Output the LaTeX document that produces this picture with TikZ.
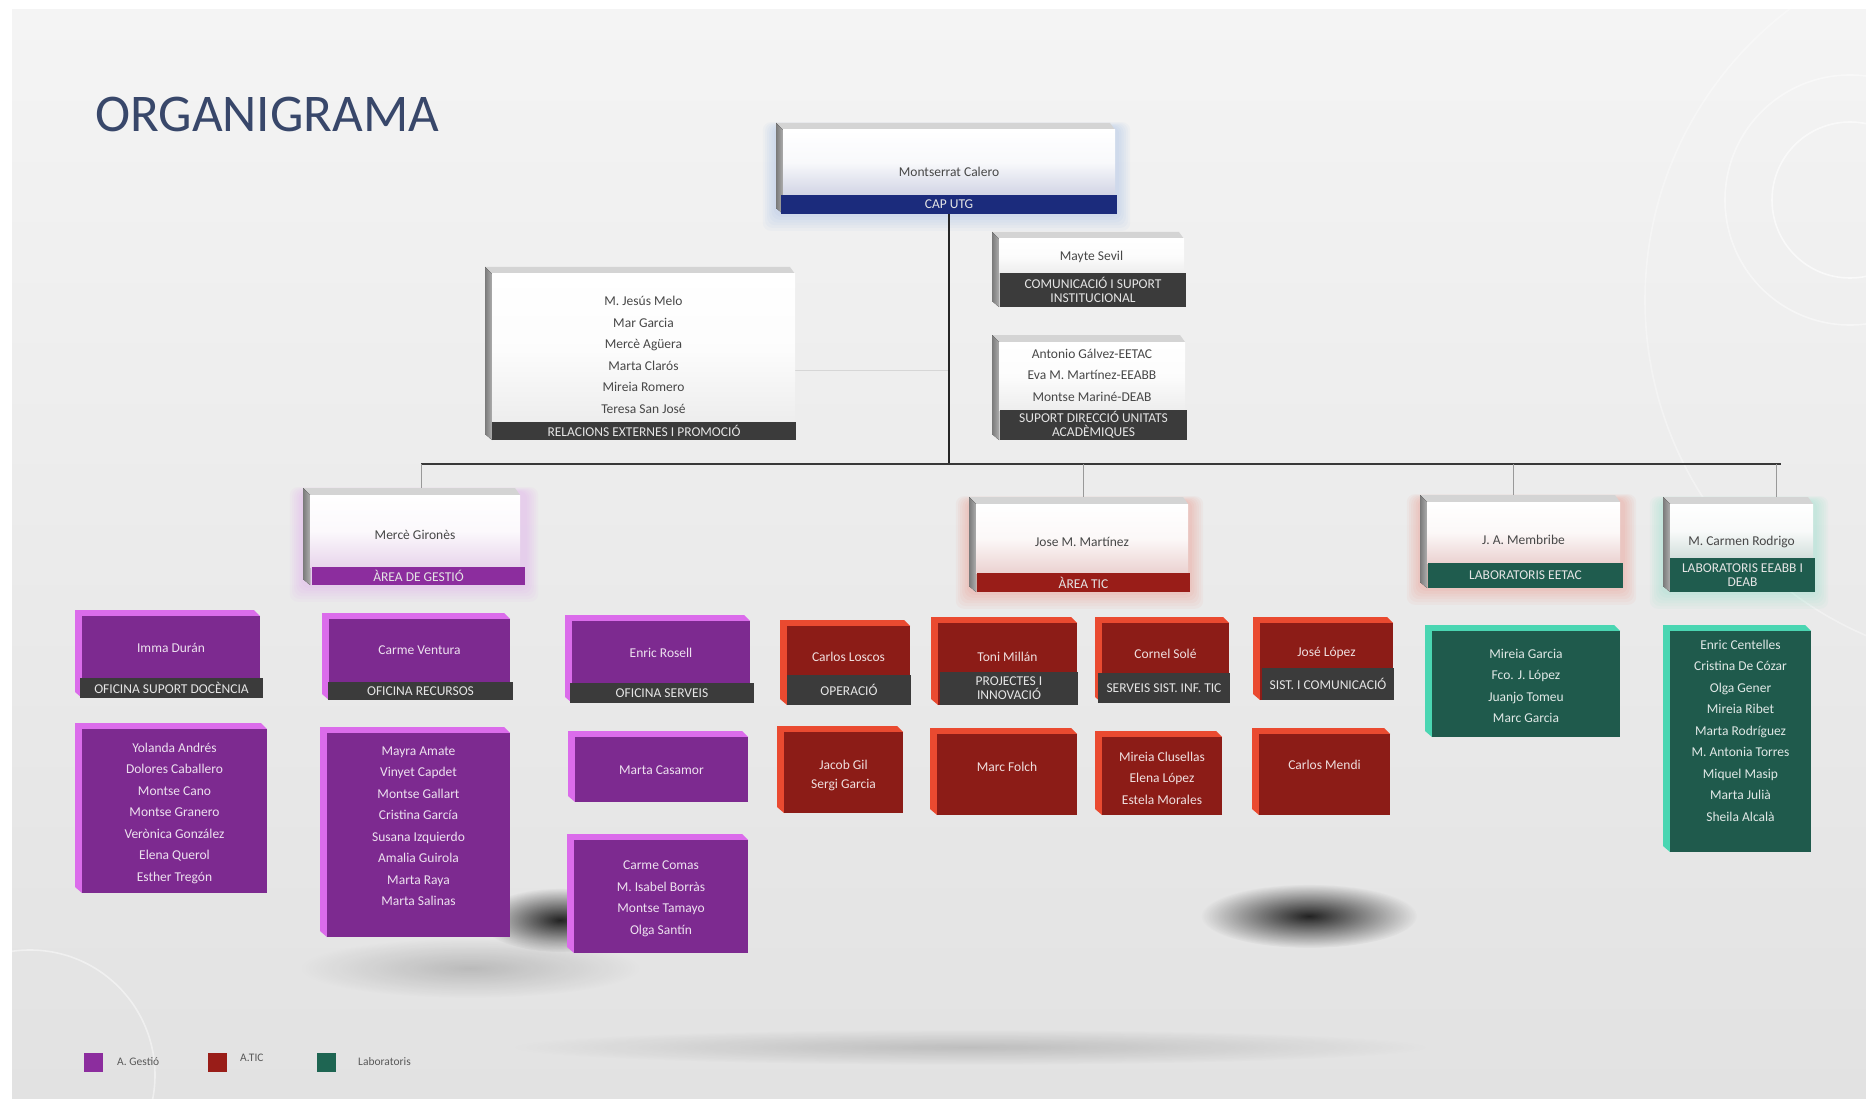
\documentclass[tikz,border=0pt]{standalone}
\usepackage{fontspec}
\setmainfont{Carlito}
\usetikzlibrary{calc,fadings}
\definecolor{bgA}{HTML}{F4F4F4}
\definecolor{bgB}{HTML}{E2E2E2}
\definecolor{navy}{HTML}{1B2B7C}
\definecolor{darkbar}{HTML}{3B3B3B}
\definecolor{cgray}{HTML}{A6A6A6}
\definecolor{gface}{HTML}{7D2A90}
\definecolor{gbev}{HTML}{DB6CEB}
\definecolor{gbar}{HTML}{8C2D9E}
\definecolor{rface}{HTML}{8C1C17}
\definecolor{rbev}{HTML}{EA4A30}
\definecolor{rbar}{HTML}{991D18}
\definecolor{tface}{HTML}{1F5A4C}
\definecolor{tbev}{HTML}{4AD6B2}
\definecolor{tbar}{HTML}{1F5C4E}
\definecolor{tleg}{HTML}{1E6552}
\definecolor{titlec}{HTML}{38476A}
\definecolor{glowblue}{HTML}{5A8FD8}
\pgfdeclarelayer{back}
\pgfdeclarelayer{lines}
\pgfsetlayers{back,lines,main}
\tikzfading[name=softfade, inner color=transparent!0, outer color=transparent!100]
\tikzset{
  wtopf/.style={fill=black!17},
  wleftf/.style={left color=black!52, right color=black!32},
  wbody/.style={inner sep=0pt, draw=none},
  cface/.style={inner sep=0pt, draw=none},
  ntext/.style={inner sep=0pt, align=center, font=\fontsize{13.5}{21.5}\selectfont},
  nx/.style={},
  wtext/.style={ntext, text=black!72},
  barbox/.style={inner sep=0pt, align=center, text=white!90!black, font=\fontsize{13.5}{14}\selectfont},
  mainline/.style={draw=black!85, line width=1.6pt},
  busline/.style={draw=black!78, line width=2.6pt},
  dropline/.style={draw=black!40, line width=0.9pt},
  faintline/.style={draw=black!16, line width=1pt},
  legsq/.style={minimum size=19pt, inner sep=0pt},
  legtext/.style={inner sep=0pt, anchor=west, text=black!65, font=\fontsize{11.5}{13}\selectfont},
  deco/.style={draw=white, line width=1.6pt, opacity=0.6},
  softshadow/.style={fill=black, path fading=softfade},
}
% white card: id, x1, y1, x2, ybar, y2, tint colour, text y, text
\newcommand\wcard[9]{%
  \fill[wtopf] (#2,#3) -- ({#4-5},#3) -- (#4,{#3+7}) -- ({#2+7},{#3+7}) -- cycle;
  \fill[wleftf] (#2,#3) -- ({#2+7},{#3+7}) -- ({#2+7},#6) -- (#2,{#6-6}) -- cycle;
  \node[wbody, top color=white, bottom color=#7!20!white, middle color=white!97!#7,
        minimum width={(#4-#2-7)*1pt}, minimum height={(#5-#3-7)*1pt}]
        (#1) at ({(#2+7+#4)/2},{(#3+7+#5)/2}) {};
  \node[wtext, nx] (#1t) at ({(#2+7+#4)/2},#8) {#9};
}
% bar: id, x1, y1, x2, y2, colour, text
\newcommand\cbar[7]{%
  \node[barbox, fill=#6, minimum width={(#4-#2)*1pt}, minimum height={(#5-#3)*1pt}]
        (#1b) at ({(#2+#4)/2},{(#3+#5)/2}) {#7};
}
% coloured 3D box: id, x1, y1, x2, y2, face, bevel, text y, text
\newcommand\cbox[9]{%
  \fill[#7] (#2,#3) -- ({#4-6},#3) -- (#4,{#3+6}) -- ({#2+7},{#3+6}) -- ({#2+7},#5) -- (#2,{#5-6}) -- cycle;
  \node[cface, fill=#6, minimum width={(#4-#2-7)*1pt}, minimum height={(#5-#3-6)*1pt}]
        (#1) at ({(#2+7+#4)/2},{(#3+6+#5)/2}) {};
  \node[ntext, nx, text=white!86!#6] (#1t) at ({(#2+7+#4)/2},#8) {#9};
}
\newcommand\glowbox[5]{%
  \foreach \g in {1,...,6}{%
    \fill[#5, opacity=0.04, rounded corners=8pt] ({#1-\g*2.2},{#2+4-\g*0.8}) rectangle ({#3+\g*2.2},{#4+\g*2.8});
  }%
}
\begin{document}
\begin{tikzpicture}[x=1pt, y=-1pt]
\useasboundingbox (0,0) rectangle (1866,1099);
\begin{pgfonlayer}{back}
  \fill[white] (0,0) rectangle (1866,1099);
  \shade[top color=bgA, bottom color=bgB] (12,10) rectangle (1866,1099);
  % decorative circles
  \begin{scope}
    \clip (12,10) rectangle (1866,1099);
    \draw[deco] (1850,200) circle (78);
    \draw[deco, opacity=0.45] (1850,200) circle (125);
    \draw[deco, opacity=0.35] (2010,300) circle (365);
    \draw[deco, opacity=0.45] (30,1075) circle (125);
  \end{scope}
  % soft shadows
  \fill[softshadow, opacity=0.85] (1309,916) ellipse (108 and 32);
  \fill[softshadow, opacity=0.85] (560,920) ellipse (80 and 32);
  \fill[softshadow, opacity=0.18] (470,968) ellipse (170 and 30);
  \fill[softshadow, opacity=0.16] (970,1047) ellipse (460 and 18);
  % glows
  \glowbox{776}{123}{1117}{214}{glowblue}
  \glowbox{303}{488}{525}{585}{gbev}
  \glowbox{969}{497}{1190}{592}{rbev}
  \glowbox{1420}{495}{1623}{588}{rbev}
  \glowbox{1663}{497}{1815}{592}{tbev}
\end{pgfonlayer}

% title
\node[anchor=base west, inner sep=0pt, text=titlec, font=\fontsize{53}{53}\selectfont] (title) at (95,132) {ORGANIGRAMA};

% ---- top level
\wcard{top}{776}{123}{1115}{195}{214}{navy}{172}{Montserrat Calero}
\cbar{top}{781}{195}{1117}{214}{navy}{CAP UTG}

\wcard{relac}{485}{267}{795}{422}{440}{cgray}{355}{M. Jesús Melo\\Mar Garcia\\Mercè Agüera\\Marta Clarós\\Mireia Romero\\Teresa San José}
\cbar{relac}{492}{422}{796}{440}{darkbar}{RELACIONS EXTERNES I PROMOCIÓ}

\wcard{mayte}{992}{232}{1184}{273}{307}{cgray}{257}{Mayte Sevil}
\cbar{mayte}{1000}{273}{1186}{307}{darkbar}{COMUNICACIÓ I SUPORT\\INSTITUCIONAL}

\wcard{antonio}{992}{335}{1185}{410}{440}{cgray}{375}{Antonio Gálvez-EETAC\\Eva M. Martínez-EEABB\\Montse Mariné-DEAB}
\cbar{antonio}{1000}{410}{1187}{440}{darkbar}{SUPORT DIRECCIÓ UNITATS\\ACADÈMIQUES}

% ---- area heads
\wcard{merce}{303}{488}{520}{567}{585}{gbar}{535}{Mercè Gironès}
\cbar{merce}{312}{567}{525}{585}{gbar}{ÀREA DE GESTIÓ}

\wcard{josem}{969}{497}{1188}{573}{592}{rbar}{542}{Jose M. Martínez}
\cbar{josem}{977}{573}{1190}{592}{rbar}{ÀREA TIC}

\wcard{membribe}{1420}{495}{1620}{563}{588}{rbar}{540}{J. A. Membribe}
\cbar{membribe}{1428}{563}{1623}{588}{tbar}{LABORATORIS EETAC}

\wcard{carmen}{1663}{497}{1813}{558}{592}{tbar}{542}{M. Carmen Rodrigo}
\cbar{carmen}{1670}{558}{1815}{592}{tbar}{LABORATORIS EEABB I\\DEAB}

% ---- gestio
\cbox{imma}{75}{610}{260}{698}{gface}{gbev}{648}{Imma Durán}
\cbar{imma}{80}{678}{263}{698}{darkbar}{OFICINA SUPORT DOCÈNCIA}
\cbox{carmev}{322}{613}{510}{700}{gface}{gbev}{650}{Carme Ventura}
\cbar{carmev}{328}{682}{513}{700}{darkbar}{OFICINA RECURSOS}
\cbox{enric}{565}{615}{750}{703}{gface}{gbev}{653}{Enric Rosell}
\cbar{enric}{570}{683}{754}{703}{darkbar}{OFICINA SERVEIS}
\cbox{yolanda}{75}{723}{267}{893}{gface}{gbev}{813}{Yolanda Andrés\\Dolores Caballero\\Montse Cano\\Montse Granero\\Verònica González\\Elena Querol\\Esther Tregón}
\cbox{mayra}{320}{727}{510}{937}{gface}{gbev}{826}{Mayra Amate\\Vinyet Capdet\\Montse Gallart\\Cristina García\\Susana Izquierdo\\Amalia Guirola\\Marta Raya\\Marta Salinas}
\cbox{casamor}{568}{731}{748}{802}{gface}{gbev}{770}{Marta Casamor}
\cbox{comas}{567}{834}{748}{953}{gface}{gbev}{899}{Carme Comas\\M. Isabel Borràs\\Montse Tamayo\\Olga Santín}

% ---- TIC
\cbox{carlosl}{780}{620}{910}{705}{rface}{rbev}{657}{Carlos Loscos}
\cbar{carlosl}{787}{675}{911}{705}{darkbar}{OPERACIÓ}
\cbox{toni}{931}{617}{1077}{705}{rface}{rbev}{657}{Toni Millán}
\cbar{toni}{940}{672}{1078}{705}{darkbar}{PROJECTES I\\INNOVACIÓ}
\cbox{cornel}{1095}{617}{1229}{703}{rface}{rbev}{654}{Cornel Solé}
\cbar{cornel}{1098}{673}{1230}{703}{darkbar}{SERVEIS SIST. INF. TIC}
\cbox{josel}{1253}{617}{1393}{700}{rface}{rbev}{653}{José López}
\cbar{josel}{1262}{668}{1394}{700}{darkbar}{SIST. I COMUNICACIÓ}
\tikzset{nx/.style={font=\fontsize{13.5}{19}\selectfont}}
\cbox{jacob}{777}{726}{903}{813}{rface}{rbev}{775.5}{Jacob Gil\\Sergi Garcia}
\tikzset{nx/.style={}}
\cbox{marcf}{930}{728}{1077}{815}{rface}{rbev}{767}{Marc Folch}
\cbox{mireiaq}{1095}{731}{1222}{815}{rface}{rbev}{778}{Mireia Clusellas\\Elena López\\Estela Morales}
\cbox{carlosm}{1252}{728}{1390}{815}{rface}{rbev}{765}{Carlos Mendi}

% ---- labs
\cbox{mireiag}{1425}{625}{1620}{737}{tface}{tbev}{686}{Mireia Garcia\\Fco. J. López\\Juanjo Tomeu\\Marc Garcia}
\cbox{enricc}{1663}{625}{1811}{852}{tface}{tbev}{730.5}{Enric Centelles\\Cristina De Cózar\\Olga Gener\\Mireia Ribet\\Marta Rodríguez\\M. Antonia Torres\\Miquel Masip\\Marta Julià\\Sheila Alcalà}

% ---- connectors
\coordinate (busL) at (421,464);
\coordinate (busR) at (1781,464);
\coordinate (dropJ) at (1083,464);
\coordinate (dropL) at (1513,464);
\coordinate (dropC) at (1776,464);
\begin{pgfonlayer}{lines}
  \draw[faintline] ([yshift=-22pt]relac.east) -- ([yshift=-22pt]relac.east -| topb.south);
  \draw[mainline] (topb.south) -- (topb.south |- busL);
  \draw[busline] (busL) -- (busR);
  \draw[dropline] (busL) -- (busL |- merce.north);
  \draw[dropline] (dropJ) -- (dropJ |- josem.north);
  \draw[dropline] (dropL) -- (dropL |- membribe.north);
  \draw[dropline] (dropC) -- (dropC |- carmen.north);
\end{pgfonlayer}

% ---- legend
\node[legsq, fill=gbar] (lg1) at (93.5,1062.5) {};
\node[legtext] (lt1) at (117,1062) {A. Gestió};
\node[legsq, fill=rbar] (lg2) at (217.5,1062.5) {};
\node[legtext] (lt2) at (240,1058) {A.TIC};
\node[legsq, fill=tleg] (lg3) at (326,1062.5) {};
\node[legtext] (lt3) at (358,1062) {Laboratoris};
\end{tikzpicture}
\end{document}
